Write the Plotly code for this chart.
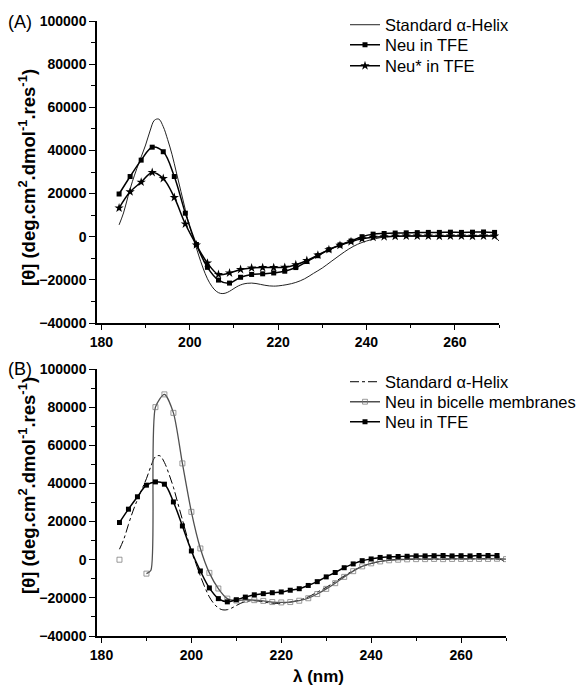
import plotly.graph_objects as go

# ---------------- data ----------------
# Standard alpha-helix reference spectrum (both panels)
std_wl = [184, 185, 186, 187, 188, 189, 190, 191, 192, 193, 194, 195, 196, 197, 198, 199,
          200, 201, 202, 203, 204, 205, 206, 207, 208, 209, 210, 211, 212, 213, 214, 215,
          216, 217, 218, 219, 220, 222, 224, 226, 228, 230, 232, 234, 236, 238, 240, 242,
          244, 246, 250, 254, 258, 262, 266, 268, 269, 270]
std_val = [5500, 11000, 18500, 25500, 31500, 37000, 42500, 49000, 54000, 54500, 51000, 45000,
           38000, 29500, 21000, 12500, 4500, -2000, -8500, -14500, -19500, -23000, -25300,
           -26300, -26200, -25300, -24000, -22800, -22000, -21600, -21500, -21700, -22100,
           -22500, -22800, -22900, -22800, -22200, -21200, -19500, -17000, -14500, -11500,
           -8500, -5700, -3500, -2000, -900, -200, 100, 300, 300, 400, 400, 500, 400, 0, -2000]

# Panel A: Neu in TFE (filled squares)
a_tfe_wl = [184, 186.5, 189, 191.5, 194, 196.5, 199, 201.5, 204, 206.5, 209, 211.5, 214, 216.5,
            219, 221.5, 224, 226.5, 229, 231.5, 234, 236.5, 239, 241.5, 244, 246.5, 249, 251.5,
            254, 256.5, 259, 261.5, 264, 266.5, 269]
a_tfe_val = [19800, 27900, 35500, 41500, 39400, 27900, 10900, -3600, -14200, -20100, -21500,
             -18800, -17500, -17200, -16800, -16000, -14300, -11500, -8800, -6000, -3800, -2000,
             0, 1200, 1500, 1700, 1800, 1900, 2000, 2000, 2100, 2000, 2100, 2200, 2000]

# Panel A: Neu* in TFE (stars)
a_star_wl = a_tfe_wl
a_star_val = [13300, 20800, 25300, 29800, 27000, 18200, 5900, -3800, -12200, -17500, -16800,
              -15200, -14500, -14300, -14300, -14200, -13000, -11000, -8500, -6000, -4000, -2300,
              -1000, -300, 0, 200, 300, 300, 300, 200, 300, 300, 200, 300, 300]

# Panel B: Neu in TFE (filled squares)
b_tfe_wl = [184, 186, 188, 190, 192, 194, 196, 198, 200, 202, 204, 206, 208, 210, 212, 214,
            216, 218, 220, 222, 224, 226, 228, 230, 232, 234, 236, 238, 240, 242, 244, 246,
            248, 250, 252, 254, 256, 258, 260, 262, 264, 266, 268]
b_tfe_val = [19500, 26500, 33000, 39100, 40800, 39600, 30300, 17700, 4600, -5900, -14800,
             -20400, -22100, -21000, -19600, -18400, -17800, -17300, -16900, -16000, -15200,
             -13500, -11500, -9000, -6700, -4200, -2200, -500, 400, 1200, 1500, 1700, 1800,
             2000, 2000, 2100, 2200, 2000, 2100, 2000, 2200, 2200, 2200]

# Panel B: Neu in bicelle membranes (open squares); None = gap in the record
b_bic_wl = [184, 187, 190, 191, 192, 194, 196, 198, 200, 202, 204, 206, 208, 210, 212, 214,
            216, 218, 220, 222, 224, 226, 228, 230, 232, 234, 236, 238, 240, 242, 244, 246,
            248, 250, 252, 254, 256, 258, 260, 262, 264, 266, 268, 270]
b_bic_val = [0, None, -7300, -5500, 80000, 86700, 77000, 50500, 25100, 5900, -6900, -15100,
             -20400, -21400, -21000, -21200, -21600, -22200, -22400, -22200, -21500, -20200,
             -18000, -15300, -12300, -9000, -6000, -3500, -1900, -900, -300, 0, 200, 300, 300,
             400, 300, 400, 400, 400, 400, 400, 500, 300]

x_ticks = [180, 200, 220, 240, 260]
y_ticks = [-40000, -20000, 0, 20000, 40000, 60000, 80000, 100000]

# ---------------- figure ----------------
W, H = 583, 689
FONT = "Liberation Sans, Arial, Helvetica, sans-serif"


def px_x(p):
    return p / W


def px_y(p):
    return 1 - p / H


fig = go.Figure()

# Panel A
fig.add_trace(go.Scatter(x=std_wl, y=std_val, mode="lines", name="Standard α-Helix",
                         line=dict(color="#222222", width=1, shape="spline"),
                         xaxis="x", yaxis="y", legend="legend"))
fig.add_trace(go.Scatter(x=a_tfe_wl, y=a_tfe_val, mode="lines+markers", name="Neu in TFE",
                         line=dict(color="black", width=1.5, shape="spline"),
                         marker=dict(symbol="square", size=5, color="black"),
                         xaxis="x", yaxis="y", legend="legend2"))
fig.add_trace(go.Scatter(x=a_star_wl, y=a_star_val, mode="lines+markers", name="Neu* in TFE",
                         line=dict(color="black", width=1.5, shape="spline"),
                         marker=dict(symbol="star", size=7, color="black"),
                         xaxis="x", yaxis="y", legend="legend3"))

# Panel B
fig.add_trace(go.Scatter(x=std_wl, y=std_val, mode="lines", name="Standard α-Helix",
                         line=dict(color="black", width=1, dash="dashdot", shape="spline"),
                         xaxis="x2", yaxis="y2", legend="legend4"))
bic_sizes = [0 if w == 191 else 5 for w in b_bic_wl]
fig.add_trace(go.Scatter(x=b_bic_wl, y=b_bic_val, mode="lines+markers",
                         name="Neu in bicelle membranes", connectgaps=False,
                         line=dict(color="#505050", width=1.3, shape="spline", smoothing=0.7),
                         marker=dict(symbol="square-open", size=bic_sizes, color="#707070",
                                     line=dict(width=1)),
                         xaxis="x2", yaxis="y2", legend="legend5"))
fig.add_trace(go.Scatter(x=b_tfe_wl, y=b_tfe_val, mode="lines+markers", name="Neu in TFE",
                         line=dict(color="black", width=1.5, shape="spline"),
                         marker=dict(symbol="square", size=5, color="black"),
                         xaxis="x2", yaxis="y2", legend="legend6"))

tickfont = dict(family=FONT, size=14, color="black", weight="bold")
xcommon = dict(range=[179, 270], tickvals=x_ticks, ticks="outside", ticklen=5, tickwidth=1.3,
               tickcolor="black", showline=True, linecolor="black", linewidth=1.5,
               showgrid=False, zeroline=False, tickfont=tickfont, automargin=False,
               minor=dict(dtick=10, tick0=180, ticks="outside", ticklen=3, tickwidth=1.2,
                          tickcolor="black", showgrid=False))
ycommon = dict(range=[-40000, 100000], tickvals=y_ticks, tickformat="d", ticks="outside",
               ticklen=6, tickwidth=1.3, tickcolor="black", showline=True, linecolor="black",
               linewidth=1.5, showgrid=False, zeroline=False, tickfont=tickfont,
               automargin=False,
               minor=dict(dtick=10000, tick0=0, ticks="outside", ticklen=4, tickwidth=1.2,
                          tickcolor="black", showgrid=False))

legfont = dict(family=FONT, size=16.5, color="black")
legend_rows = [25, 45, 66, 382, 402, 422]
legends = {}
for i, row in enumerate(legend_rows):
    key = "legend" if i == 0 else f"legend{i + 1}"
    legends[key] = dict(x=px_x(345), y=px_y(row), xanchor="left", yanchor="middle",
                        bgcolor="rgba(0,0,0,0)", itemwidth=30, font=legfont,
                        borderwidth=0)

fig.update_layout(
    template="none",
    width=W, height=H, autosize=False,
    margin=dict(l=0, r=0, t=0, b=0, pad=0),
    paper_bgcolor="white", plot_bgcolor="white",
    xaxis=dict(domain=[px_x(97), px_x(499)], anchor="y", **xcommon),
    yaxis=dict(domain=[px_y(323), px_y(21)], anchor="x", **ycommon),
    xaxis2=dict(domain=[px_x(97), px_x(506)], anchor="y2", **xcommon),
    yaxis2=dict(domain=[px_y(636), px_y(369)], anchor="x2", **ycommon),
    showlegend=True,
    **legends,
)

ytitle = "[θ] (deg.cm<sup>2</sup>.dmol<sup>-1</sup>.res<sup>-1</sup>)"
annots = [
    dict(text="(A)", x=px_x(6), y=px_y(22), xanchor="left", yanchor="middle",
         font=dict(family=FONT, size=18, color="black")),
    dict(text="(B)", x=px_x(6), y=px_y(369), xanchor="left", yanchor="middle",
         font=dict(family=FONT, size=18, color="black")),
    dict(text=ytitle, x=px_x(27), y=px_y(178), textangle=-90, xanchor="center",
         yanchor="middle", font=dict(family=FONT, size=18.5, color="black", weight="bold")),
    dict(text=ytitle, x=px_x(27), y=px_y(486), textangle=-90, xanchor="center",
         yanchor="middle", font=dict(family=FONT, size=18.5, color="black", weight="bold")),
    dict(text="λ (nm)", x=px_x(318), y=px_y(676), xanchor="center", yanchor="middle",
         font=dict(family=FONT, size=17, color="black", weight="bold")),
]
for a in annots:
    a.update(xref="paper", yref="paper", showarrow=False)
fig.update_layout(annotations=annots)

# remove the default page margin so the 583x689 figure fills the window exactly
fig.write_html("out.html",
               config={"displayModeBar": False},
               post_script="document.body.style.margin='0px';"
                           "document.body.style.overflow='hidden';")
